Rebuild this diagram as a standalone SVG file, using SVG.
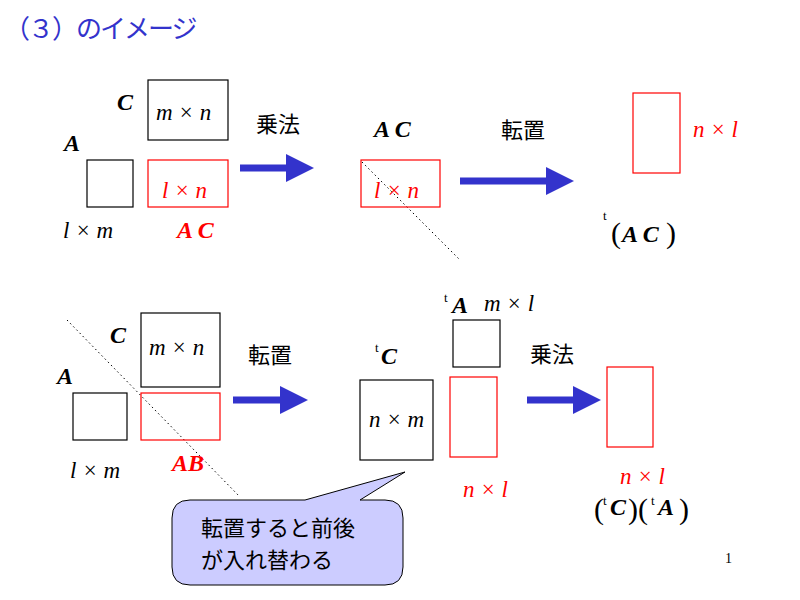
<svg xmlns="http://www.w3.org/2000/svg" width="800" height="600" viewBox="0 0 800 600">
<style>
.m{font-family:"Liberation Serif",serif;font-style:italic;font-size:23px}
.b{font-family:"Liberation Serif",serif;font-style:italic;font-weight:bold;font-size:24px}
.p{font-family:"Liberation Serif",serif;font-size:30px}
.s{font-family:"Liberation Serif",serif;font-size:13px}
.j{font-family:"Noto Sans CJK JP",sans-serif;font-size:22px}
.r{fill:red}
.bx{fill:none;stroke:#000;stroke-width:1.2}
.rx{fill:none;stroke:red;stroke-width:1.2}
.dot{stroke:#000;stroke-dasharray:1.5 3;fill:none}
</style>
<defs><marker id="ah" markerWidth="4" markerHeight="4" refX="0" refY="2" orient="auto" markerUnits="strokeWidth"><path d="M0,0L4,2L0,4z" fill="#3333cc"/></marker></defs>
<rect width="800" height="600" fill="#fff"/>
<text x="4" y="38" font-family="Noto Sans CJK JP,sans-serif" font-size="26" fill="#3333cc" letter-spacing="-2">（３）のイメージ</text>
<g id="connectors" stroke="#3333cc" stroke-width="7">
<line x1="240" y1="168" x2="286" y2="168" marker-end="url(#ah)"/>
<line x1="460" y1="181" x2="546" y2="181" marker-end="url(#ah)"/>
<line x1="233" y1="400" x2="280" y2="400" marker-end="url(#ah)"/>
<line x1="527" y1="400" x2="573" y2="400" marker-end="url(#ah)"/>
</g>
<line class="dot" x1="362" y1="162" x2="460" y2="260"/>
<line class="dot" x1="67" y1="320" x2="240" y2="497"/>
<g id="top">
<rect class="bx" x="148" y="80" width="80" height="60"/>
<text class="m" x="156" y="120">m × n</text>
<rect class="bx" x="87" y="160" width="46" height="47"/>
<rect class="rx" x="148" y="160" width="80" height="47"/>
<text class="m r" x="162" y="198">l × n</text>
<text class="b" x="117" y="110">C</text>
<text class="b" x="64" y="151">A</text>
<text class="m" x="63" y="238">l × m</text>
<text class="b r" x="177" y="238">A C</text>
<text class="j" x="256" y="132">乗法</text>
<text class="b" x="374" y="137" font-size="28">A C</text>
<rect class="rx" x="361" y="160" width="79" height="47"/>
<text class="m r" x="374" y="198">l × n</text>
<text class="j" x="501" y="138">転置</text>
<rect class="rx" x="633" y="93" width="47" height="80"/>
<text class="m r" x="693" y="137">n × l</text>
<text class="s" x="603" y="220">t</text>
<text class="p" x="611" y="243">(</text>
<text class="b" x="622" y="242" font-size="28">A C</text>
<text class="p" x="666" y="243">)</text>
</g>
<g id="bottom">
<rect class="bx" x="141" y="313" width="79" height="74"/>
<text class="m" x="149" y="355">m × n</text>
<rect class="bx" x="73" y="393" width="54" height="47"/>
<rect class="rx" x="141" y="393" width="79" height="47"/>
<text class="b" x="110" y="343">C</text>
<text class="b" x="57" y="384">A</text>
<text class="m" x="70" y="478">l × m</text>
<text class="b r" x="172" y="471">AB</text>
<text class="j" x="248" y="363">転置</text>
<text class="s" x="375" y="352">t</text>
<text class="b" x="381" y="364">C</text>
<rect class="bx" x="360" y="380" width="73" height="80"/>
<text class="m" x="369" y="427">n × m</text>
<text class="s" x="444" y="302">t</text>
<text class="b" x="452" y="313">A</text>
<text class="m" x="484" y="311">m × l</text>
<rect class="bx" x="453" y="320" width="47" height="47"/>
<rect class="rx" x="450" y="377" width="47" height="80"/>
<text class="m r" x="463" y="497">n × l</text>
<text class="j" x="530" y="362">乗法</text>
<rect class="rx" x="607" y="367" width="46" height="80"/>
<text class="m r" x="620" y="484">n × l</text>
<text class="p" x="594" y="519" font-size="26">(</text>
<text class="s" x="603" y="505">t</text>
<text class="b" x="610" y="515">C</text>
<text class="p" x="628" y="519" font-size="26">)(</text>
<text class="s" x="651" y="505">t</text>
<text class="b" x="658" y="515">A</text>
<text class="p" x="679" y="519" font-size="26">)</text>
</g>
<g id="callout">
<path d="M190,500 L305,500 L405,472 L360,500 L385,500 Q403,500 403,518 L403,567 Q403,585 385,585 L190,585 Q172,585 172,567 L172,518 Q172,500 190,500 Z" fill="#ccccff" stroke="#000" stroke-width="1"/>
<text class="j" x="201" y="536">転置すると前後</text>
<text class="j" x="201" y="568">が入れ替わる</text>
</g>
<text x="725" y="563" font-family="Liberation Serif,serif" font-size="14">1</text>
</svg>
